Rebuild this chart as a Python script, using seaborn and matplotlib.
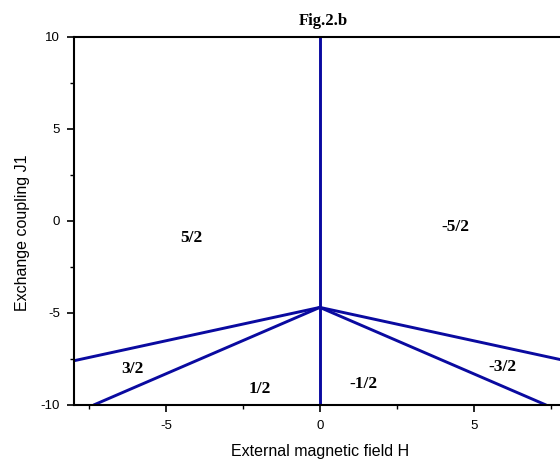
import seaborn as sns
import matplotlib.pyplot as plt
import pandas as pd
from matplotlib.ticker import MultipleLocator

# phase boundaries (H, J1)
seg_names = ['upper', 'upper', 'upper', 'lower', 'lower', 'lower', 'vert', 'vert']
h_vals = [-8, 0, 8, -7.35, 0, 7.35, 0, 0]
j_vals = [-7.6, -4.7, -7.6, -10, -4.7, -10, -10, 10]

# region labels
region_text = ['5/2', '-5/2', '3/2', '1/2', '-1/2', '-3/2']
region_h = [-4.19, 4.42, -6.1, -1.96, 1.41, 5.94]
region_j = [-0.94, -0.33, -8.02, -9.15, -8.84, -7.93]

sns.set_style('ticks')
plt.rcParams['font.family'] = ['Liberation Sans', 'DejaVu Sans']
plt.rcParams['axes.unicode_minus'] = False
plt.rcParams['text.color'] = 'black'
plt.rcParams['axes.labelcolor'] = 'black'
plt.rcParams['xtick.color'] = 'black'
plt.rcParams['ytick.color'] = 'black'

df = pd.DataFrame({'seg': seg_names, 'H': h_vals, 'J1': j_vals})

fig = plt.figure(figsize=(5.6, 4.63), dpi=100)
ax = fig.add_axes([0.1316, 0.1253, 0.8791, 0.7954])

sns.lineplot(data=df, x='H', y='J1', units='seg', estimator=None, sort=False,
             color='#0a0aa0', linewidth=2.1, ax=ax, legend=False)

for t, h, j in zip(region_text, region_h, region_j):
    ax.text(h, j, t, ha='center', va='center', fontsize=12.5, fontweight='bold',
            family='Liberation Serif', color='black')

ax.set_xlim(-8, 8)
ax.set_ylim(-10, 10)
ax.xaxis.set_major_locator(MultipleLocator(5))
ax.xaxis.set_minor_locator(MultipleLocator(2.5))
ax.yaxis.set_major_locator(MultipleLocator(5))
ax.yaxis.set_minor_locator(MultipleLocator(2.5))
ax.tick_params(which='major', direction='out', length=5, width=1.2, labelsize=9.5, pad=5)
ax.tick_params(which='minor', direction='out', length=3, width=1.0)
ax.tick_params(axis='x', which='major', pad=6)
for s in ax.spines.values():
    s.set_linewidth(1.5)
    s.set_color('black')

ax.set_xlabel('External magnetic field H', fontsize=11.5)
ax.xaxis.label.set_va('center')
ax.xaxis.set_label_coords(0.5, -0.1276)
ax.set_ylabel('Exchange coupling J1', fontsize=11.5)
ax.yaxis.label.set_va('center')
ax.yaxis.set_label_coords(-0.105, 0.467)

fig.text(323 / 560, 1 - 21 / 463, 'Fig.2.b', ha='center', va='center',
         fontsize=12, fontweight='bold', family='Liberation Serif')

fig.savefig('out.png', dpi=100)
